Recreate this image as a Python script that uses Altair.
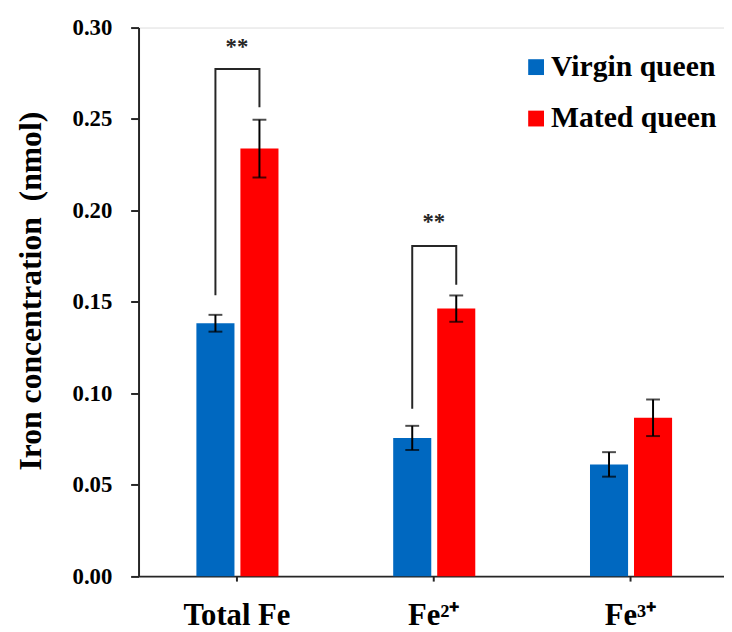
import altair as alt
import pandas as pd

categories = ["Total Fe", "Fe²⁺", "Fe³⁺"]
groups = ["Virgin queen", "Mated queen"]
virgin_mean = [0.1383, 0.0756, 0.0611]
virgin_err = [0.0046, 0.0066, 0.0067]
mated_mean = [0.2338, 0.1463, 0.0866]
mated_err = [0.0158, 0.0072, 0.0100]
colors = ["#0068C0", "#FF0000"]
y_ticks = [0.0, 0.05, 0.10, 0.15, 0.20, 0.25, 0.30]

# significance brackets
bracket_cats = ["Total Fe", "Fe²⁺"]
bracket_top = [0.2774, 0.1805]
bracket_left_bottom = [0.1536, 0.0915]
bracket_right_bottom = [0.2564, 0.1593]
star_y = [0.2853, 0.1899]
star_text = ["**", "**"]

FONT = "Liberation Serif"
AX = "#262626"

rows = []
for i, c in enumerate(categories):
    rows.append(dict(cat=c, grp=groups[0], mean=virgin_mean[i],
                     lo=virgin_mean[i] - virgin_err[i], hi=virgin_mean[i] + virgin_err[i]))
    rows.append(dict(cat=c, grp=groups[1], mean=mated_mean[i],
                     lo=mated_mean[i] - mated_err[i], hi=mated_mean[i] + mated_err[i]))
df = pd.DataFrame(rows)

brows = []
for i, c in enumerate(bracket_cats):
    brows.append(dict(cat=c, grp=groups[0], v=bracket_left_bottom[i], idx=0, b=i))
    brows.append(dict(cat=c, grp=groups[0], v=bracket_top[i], idx=1, b=i))
    brows.append(dict(cat=c, grp=groups[1], v=bracket_top[i], idx=2, b=i))
    brows.append(dict(cat=c, grp=groups[1], v=bracket_right_bottom[i], idx=3, b=i))
bdf = pd.DataFrame(brows)

sdf = pd.DataFrame(dict(cat=bracket_cats, v=star_y, t=star_text))

xscale = alt.Scale(domain=categories, paddingInner=0, paddingOuter=0)
xaxis = alt.Axis(title=None, labelFont=FONT, labelFontWeight="bold", labelFontSize=31,
                 labelColor="black", labelBaseline="alphabetic", labelPadding=44,
                 tickSize=5, tickWidth=2, tickColor=AX, domainColor=AX, domainWidth=2,
                 labelAngle=0, grid=False)
xenc = alt.X("cat:N", sort=categories, scale=xscale, axis=xaxis)
xoff = alt.XOffset("grp:N", sort=groups,
                   scale=alt.Scale(domain=groups, range=[58.5, 141.5],
                                   paddingInner=0.135, paddingOuter=0))
yscale = alt.Scale(domain=[0, 0.30], nice=False, zero=True)
yaxis = alt.Axis(title="Iron concentration\u00a0 (nmol)", values=y_ticks, format=".2f",
                 labelFont=FONT, labelFontWeight="bold", labelFontSize=23, labelColor="black",
                 labelPadding=19, tickSize=8, tickWidth=2, tickColor=AX,
                 domainColor=AX, domainWidth=2, grid=False,
                 titleFont=FONT, titleFontWeight="bold", titleFontSize=32, titleColor="black",
                 titleAngle=270, titleBaseline="alphabetic", titleAlign="center",
                 titleX=-99, titleY=266)

base = alt.Chart(df)
bars = base.mark_bar().encode(
    x=xenc, xOffset=xoff,
    y=alt.Y("mean:Q", scale=yscale, axis=yaxis),
    color=alt.Color("grp:N", sort=groups, scale=alt.Scale(domain=groups, range=colors),
                    legend=alt.Legend(title=None, orient="none", legendX=387, legendY=25,
                                      symbolType="square", symbolSize=256, symbolStrokeWidth=0,
                                      labelFont=FONT, labelFontWeight="bold", labelFontSize=30,
                                      labelColor="black", labelOffset=0, rowPadding=22,
                                      padding=0, labelLimit=400)),
)
err = base.mark_rule(color="black", strokeWidth=2).encode(
    x=xenc, xOffset=xoff, y=alt.Y("lo:Q", scale=yscale), y2="hi:Q")
cap_lo = base.mark_tick(color="black", size=14, thickness=2).encode(
    x=xenc, xOffset=xoff, y=alt.Y("lo:Q", scale=yscale))
cap_hi = base.mark_tick(color="black", size=14, thickness=2).encode(
    x=xenc, xOffset=xoff, y=alt.Y("hi:Q", scale=yscale))
brackets = alt.Chart(bdf).mark_line(color=AX, strokeWidth=2).encode(
    x=xenc, xOffset=xoff, y=alt.Y("v:Q", scale=yscale),
    order="idx:O", detail="b:N")
stars = alt.Chart(sdf).mark_text(font=FONT, fontSize=23, fontWeight="bold", color=AX,
                                 baseline="alphabetic", align="center").encode(
    x=xenc, y=alt.Y("v:Q", scale=yscale), text="t:N")

chart = alt.layer(bars, err, cap_lo, cap_hi, brackets, stars).properties(
    width=597, height=554.7,
    autosize=alt.AutoSizeParams(type="none"),
    padding={"left": 132, "top": 16.3, "right": -5, "bottom": 53},
).configure_view(stroke=None).configure(background="white")

chart.save("out.html", embed_options={"renderer": "svg", "actions": False})
